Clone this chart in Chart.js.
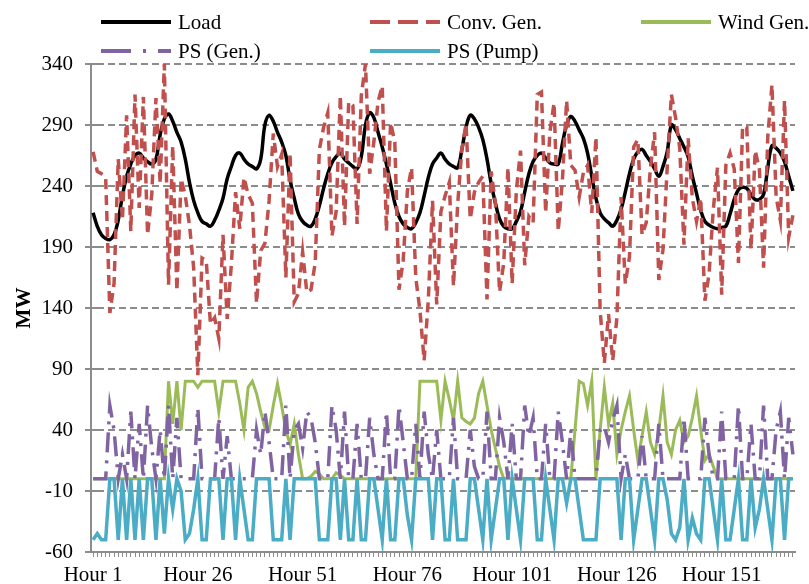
<!DOCTYPE html>
<html>
<head>
<meta charset="utf-8">
<script src="https://cdn.jsdelivr.net/npm/chart.js@4.4.1/dist/chart.umd.min.js"></script>
<style>
  body { margin: 0; background: #fff; }
  #wrap { width: 809px; height: 584px; }
</style>
</head>
<body>
<div id="wrap"><canvas id="chart" width="809" height="584"></canvas></div>
<script>
const ctx = document.querySelector('#chart');

// hourly values, one week (168 h)
const hours = Array.from({length: 168}, (_, i) => 'Hour ' + (i + 1));

const load = [
  218,207,200,197,196,200,212,232,248,258,
  265,267,263,260,258,262,282,295,299,293,
  284,276,262,243,228,218,211,209,207,212,
  220,230,246,256,265,267,262,258,256,254,
  262,290,298,293,284,276,265,245,230,217,
  211,208,207,213,224,238,250,259,264,267,
  262,259,256,254,264,290,300,296,284,272,
  258,242,226,215,209,206,205,210,218,232,
  247,258,263,267,262,258,256,255,270,288,
  298,295,288,278,262,242,226,213,207,205,
  205,211,219,235,250,260,265,267,263,259,
  258,258,275,290,297,293,286,279,267,248,
  230,218,213,210,207,212,221,235,250,262,
  268,270,265,260,254,248,256,268,290,286,
  279,272,264,248,234,220,211,208,206,205,
  206,207,217,229,237,239,238,233,229,229,
  233,255,273,271,267,260,248,236
];

const convGen = [
  268,252,250,247,136,160,262,212,298,203,
  315,222,313,200,233,312,242,340,159,273,
  154,246,232,208,173,85,181,179,127,132,
  115,200,131,176,235,205,247,233,226,144,
  187,193,228,283,256,266,165,267,145,152,
  186,153,155,177,270,288,300,199,219,314,
  207,309,306,209,314,340,250,276,309,322,
  203,292,276,155,179,236,255,165,138,97,
  147,228,143,219,232,243,158,225,270,291,
  213,235,243,248,147,252,226,153,177,255,
  160,236,269,175,215,210,315,317,218,284,
  308,203,245,310,257,253,231,251,257,218,
  280,138,95,135,97,132,231,160,182,272,
  278,200,210,255,284,163,188,255,315,296,
  271,192,279,230,211,230,146,168,221,255,
  151,257,267,254,177,289,288,188,269,254,
  173,280,323,231,212,310,198,216
];

const windGen = [
  0,0,0,0,0,0,0,0,0,0,
  0,0,0,0,0,0,0,0,80,45,
  80,40,80,80,80,75,80,80,80,80,
  55,80,80,80,80,62,40,75,80,70,
  55,42,40,60,78,60,40,28,45,20,
  0,0,2,6,4,0,0,0,5,3,
  0,0,0,0,0,0,0,0,0,0,
  0,0,0,0,0,0,0,0,80,80,
  80,80,80,48,80,65,48,80,50,47,
  45,50,70,80,60,40,25,10,0,0,
  0,0,0,0,0,0,0,0,0,0,
  0,0,0,0,0,40,80,78,60,80,
  0,40,75,45,62,20,40,55,68,40,
  15,35,55,30,20,40,68,30,20,40,
  48,30,35,50,68,40,15,20,10,0,
  0,0,0,0,0,0,0,0,0,0,
  0,0,0,0,0,0,0,0
];

const psGen = [
  0,0,0,0,60,40,0,20,0,55,
  0,45,0,60,25,0,40,0,60,0,
  50,0,0,0,0,58,0,0,0,0,
  50,0,35,0,0,0,0,0,0,40,
  20,55,30,0,0,0,60,0,40,45,
  25,55,50,30,0,0,0,60,40,0,
  55,0,0,45,0,0,50,20,0,0,
  55,0,0,60,30,0,0,45,0,55,
  20,0,40,0,0,0,50,0,0,0,
  40,10,0,0,55,0,0,50,30,0,
  45,0,0,60,35,50,0,0,45,0,
  0,55,30,0,40,0,0,0,0,0,
  0,40,43,30,48,60,0,20,0,0,
  0,35,0,0,0,45,0,0,0,0,
  0,50,0,0,0,0,50,20,0,0,
  55,0,0,0,60,0,0,45,0,0,
  60,0,0,40,55,0,50,20
];

const psPump = [
  -50,-45,-50,-50,0,0,-50,0,-50,0,
  -50,0,-50,0,0,-50,0,-45,0,-25,
  0,-10,-50,-45,-25,0,-50,-50,0,0,
  0,-50,0,0,-50,0,-25,-50,-50,0,
  0,0,0,-50,-50,-50,0,-50,0,0,
  0,0,0,0,-50,-50,-50,0,0,-50,
  0,-50,-50,0,-50,-50,0,0,-25,-50,
  0,-50,-50,0,0,-30,-50,0,0,0,
  0,-50,0,0,-50,-50,0,-50,-50,-50,
  0,0,-25,-50,0,-50,-25,0,0,-50,
  0,-25,-50,0,0,0,-50,-50,0,-25,
  -50,0,0,-20,0,0,-25,-50,-50,-50,
  -50,0,0,0,0,0,-50,0,0,-50,
  -25,0,0,-25,-50,0,0,-17,-45,-50,
  -40,0,-50,-32,-45,-50,0,0,-25,-50,
  0,-50,-50,-25,0,-50,-50,0,-40,-25,
  0,-25,-50,0,0,-50,0,0
];

const yMin = -60, yMax = 340, yStep = 50;
const labelEvery = 25;

const serif = "'Liberation Serif', 'Times New Roman', serif";
const axisGrey = '#8c8c8c';

// legend drawn by hand so it keeps the 3 + 2 layout of the original
const legendItems = [
  {text: 'Load',       color: '#000000', dash: [],             x: 101, y: 22},
  {text: 'Conv. Gen.', color: '#C0504D', dash: [20, 8],        x: 370, y: 22},
  {text: 'Wind Gen.',  color: '#9BBB59', dash: [],             x: 641, y: 22},
  {text: 'PS (Gen.)',  color: '#8064A2', dash: [30, 12, 3, 12], x: 101, y: 51},
  {text: 'PS (Pump)',  color: '#4BACC6', dash: [],             x: 370, y: 51}
];

const legendPlugin = {
  id: 'handLegend',
  afterDraw(chart) {
    const c = chart.ctx;
    c.save();
    c.font = '21px ' + serif;
    c.textBaseline = 'middle';
    c.fillStyle = '#000';
    legendItems.forEach(it => {
      c.beginPath();
      c.setLineDash(it.dash);
      c.lineWidth = 4;
      c.strokeStyle = it.color;
      c.lineCap = 'butt';
      c.moveTo(it.x, it.y);
      c.lineTo(it.x + 70, it.y);
      c.stroke();
      c.setLineDash([]);
      c.fillText(it.text, it.x + 77, it.y + 1);
    });
    c.restore();
  }
};

// dashed horizontal gridlines (taken from the y scale's own ticks)
const dashedGrid = {
  id: 'dashedGrid',
  beforeDatasetsDraw(chart) {
    const c = chart.ctx, y = chart.scales.y, area = chart.chartArea;
    c.save();
    c.strokeStyle = axisGrey;
    c.lineWidth = 2;
    c.setLineDash([7, 4]);
    y.ticks.forEach(t => {
      if (t.value === yMin) return;
      const py = Math.round(y.getPixelForValue(t.value));
      c.beginPath();
      c.moveTo(area.left + 6, py);
      c.lineTo(area.right, py);
      c.stroke();
    });
    // small cross ticks on the right of the value axis
    c.setLineDash([]);
    y.ticks.forEach(t => {
      const py = Math.round(y.getPixelForValue(t.value));
      c.beginPath();
      c.moveTo(area.left, py);
      c.lineTo(area.left + 6, py);
      c.stroke();
    });
    c.restore();
  }
};

new Chart(ctx, {
  type: 'line',
  data: {
    labels: hours,
    datasets: [
      {label: 'Load', data: load, borderColor: '#000000', borderWidth: 3.5, tension: 0.4, order: 5},
      {label: 'Conv. Gen.', data: convGen, borderColor: '#C0504D', borderWidth: 3.5, borderDash: [10, 6], order: 4},
      {label: 'Wind Gen.', data: windGen, borderColor: '#9BBB59', borderWidth: 3, order: 3},
      {label: 'PS (Gen.)', data: psGen, borderColor: '#8064A2', borderWidth: 3.5, borderDash: [20, 8, 3, 8], order: 2},
      {label: 'PS (Pump)', data: psPump, borderColor: '#4BACC6', borderWidth: 3.5, order: 1}
    ]
  },
  options: {
    responsive: false,
    animation: false,
    layout: {padding: {left: 4, right: 14, top: 64, bottom: 0}},
    elements: {point: {radius: 0}, line: {fill: false}},
    plugins: {legend: {display: false}, tooltip: {enabled: false}},
    scales: {
      x: {
        offset: true,
        grid: {display: true, offset: false, drawOnChartArea: false, drawTicks: true, tickLength: 5, color: axisGrey, lineWidth: 1},
        border: {display: true, color: axisGrey, width: 2},
        ticks: {
          autoSkip: false, maxRotation: 0, minRotation: 0, padding: 6,
          color: '#000', font: {family: serif, size: 21},
          callback: function(val, index) {
            return index % labelEvery === 0 ? this.getLabelForValue(val) : '';
          }
        },
        afterFit: s => { s.height = 32; }
      },
      y: {
        min: yMin, max: yMax,
        grid: {drawOnChartArea: false, color: axisGrey, lineWidth: 2, tickLength: 6, tickColor: axisGrey, tickWidth: 2},
        border: {display: true, color: axisGrey, width: 2},
        ticks: {stepSize: yStep, padding: 12, color: '#000', font: {family: serif, size: 21}},
        title: {display: true, text: 'MW', color: '#000', padding: {top: 8, bottom: 0}, font: {family: serif, size: 21, weight: 'bold'}},
        afterFit: s => { s.width = 87; }
      }
    }
  },
  plugins: [dashedGrid, legendPlugin]
});
</script>
</body>
</html>
